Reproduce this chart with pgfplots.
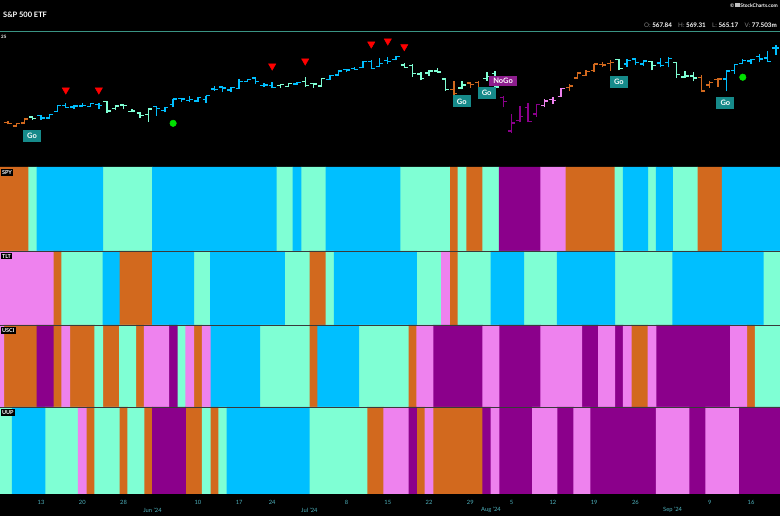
\documentclass[border=0pt]{standalone}
\usepackage{fontspec}
\setmainfont{Lato}
\usepackage{pgfplots}
\pgfplotsset{compat=1.18}
\usepackage{pgfplotstable}
\definecolor{c0}{HTML}{D2691E}
\definecolor{c1}{HTML}{7FFFD4}
\definecolor{c2}{HTML}{00BFFF}
\definecolor{c3}{HTML}{8B008B}
\definecolor{c4}{HTML}{EE82EE}
\definecolor{tealline}{HTML}{3A9484}
\definecolor{ticktxt}{HTML}{4FB3BF}
\definecolor{gobox}{HTML}{168A8A}
\definecolor{nogobox}{HTML}{8E1E8E}
\definecolor{gdot}{HTML}{00E000}
\definecolor{sep}{HTML}{3A3A3A}

\pgfdeclareplotmark{ohlcopen}{\pgfpathmoveto{\pgfqpoint{-3.6pt}{0pt}}\pgfpathlineto{\pgfqpoint{0.6pt}{0pt}}\pgfusepathqstroke}
\pgfdeclareplotmark{ohlcclose}{\pgfpathmoveto{\pgfqpoint{-0.6pt}{0pt}}\pgfpathlineto{\pgfqpoint{3.6pt}{0pt}}\pgfusepathqstroke}

\pgfplotstableread{
d O H L C spy tlt usci uup
0 513.75 516.61 513.30 516.57 0 4 4 1
1 517.56 518.57 516.45 517.14 0 4 0 1
2 515.26 517.74 515.14 517.19 0 4 0 2
3 517.38 520.21 516.71 520.17 0 4 0 2
4 521.81 522.64 519.59 520.84 1 4 0 2
5 522.56 522.67 519.74 520.91 2 4 3 2
6 521.11 523.83 520.56 523.30 2 4 3 1
7 525.83 530.08 525.18 529.78 2 0 0 1
8 529.88 531.52 528.54 528.69 2 1 4 1
9 528.81 529.52 527.32 529.45 2 1 0 1
10 529.57 531.56 529.17 530.06 2 1 0 4
11 529.28 531.52 529.07 531.36 2 1 0 0
12 530.65 531.38 527.60 529.83 2 1 1 1
13 532.96 533.07 524.72 525.96 1 2 0 1
14 527.85 530.27 526.88 529.44 1 2 0 1
15 530.27 530.51 527.11 529.81 1 0 1 0
16 525.68 527.31 525.37 526.10 1 0 1 1
17 524.52 525.20 521.33 522.61 1 0 0 1
18 523.59 527.50 518.36 527.37 1 0 4 0
19 529.02 529.31 522.60 527.80 2 2 4 3
20 526.46 529.15 524.96 528.39 2 2 4 3
21 530.77 534.69 528.73 534.67 2 2 3 3
22 534.98 535.42 532.68 534.66 2 2 1 3
23 533.66 536.89 532.54 534.01 2 2 4 0
24 533.18 535.99 532.57 535.66 2 1 0 0
25 534.07 537.01 532.05 536.95 2 1 4 1
26 541.63 544.12 540.30 541.36 2 2 2 0
27 543.15 543.33 539.59 542.45 2 2 2 1
28 540.88 542.81 539.85 542.78 2 2 2 2
29 542.08 548.53 541.61 547.10 2 2 2 2
30 547.16 548.62 546.73 548.49 2 2 2 2
31 549.44 550.12 545.18 547.00 2 2 2 2
32 544.40 545.65 543.02 544.51 2 2 1 2
33 544.33 546.95 542.62 542.74 2 2 1 2
34 543.99 545.20 542.44 544.83 1 2 1 2
35 543.69 546.24 543.03 545.51 1 1 1 2
36 545.37 546.96 544.61 546.37 2 1 1 2
37 547.16 550.28 542.95 544.22 1 1 1 2
38 545.63 545.88 542.52 545.34 1 0 0 1
39 543.70 549.01 543.65 549.01 1 0 2 1
40 548.69 551.83 548.65 551.46 2 1 2 1
41 551.77 555.05 551.12 554.64 2 2 2 1
42 555.44 556.25 554.19 555.28 2 2 2 1
43 556.26 557.18 555.52 555.82 2 2 2 1
44 557.07 561.67 556.77 561.32 2 2 1 1
45 561.44 562.33 555.83 556.48 2 2 1 0
46 557.63 563.67 557.15 559.99 2 2 1 0
47 562.03 564.84 559.63 561.53 2 2 1 4
48 562.87 565.16 562.10 564.86 2 2 1 4
49 558.80 560.51 556.61 556.94 1 2 1 4
50 558.51 559.52 550.43 552.66 1 2 0 3
51 552.42 554.08 547.91 548.99 1 1 4 0
52 553.00 555.27 551.02 554.65 1 1 4 4
53 554.54 556.74 553.28 553.78 1 1 3 0
54 548.86 549.17 540.29 541.23 1 4 3 0
55 541.35 547.46 537.45 538.41 0 0 3 0
56 542.28 547.19 541.49 544.44 1 1 3 0
57 546.02 547.05 542.72 544.76 0 1 3 0
58 546.26 547.34 538.52 542.00 0 1 3 0
59 548.98 553.50 547.58 550.81 1 1 4 3
60 552.57 554.87 539.43 543.01 1 2 4 4
61 535.75 536.99 528.60 532.90 3 2 3 3
62 511.64 523.58 510.27 517.38 3 2 3 3
63 519.22 529.75 517.87 522.15 3 2 3 3
64 528.47 531.59 518.05 518.66 3 1 3 3
65 523.91 531.29 521.84 530.65 3 1 3 4
66 529.81 534.51 528.56 532.99 4 1 4 4
67 534.21 535.73 530.95 533.27 4 1 4 4
68 536.53 542.28 536.28 542.04 4 2 4 3
69 542.85 544.96 540.12 543.75 0 2 4 3
70 549.50 553.36 548.88 553.07 0 2 4 4
71 551.42 555.02 551.26 554.31 0 2 3 4
72 554.73 559.61 553.86 559.61 0 2 3 3
73 559.15 560.84 557.33 558.70 0 2 4 3
74 559.77 562.11 554.73 560.62 0 2 4 3
75 562.56 563.18 554.98 556.22 1 1 3 3
76 559.53 563.09 557.29 562.13 2 1 4 3
77 563.18 563.91 559.05 560.79 2 1 0 3
78 559.49 562.06 558.32 561.56 2 1 0 3
79 561.21 561.65 555.04 558.30 1 1 4 3
80 560.31 563.68 557.18 558.35 2 1 3 4
81 560.77 564.20 557.14 563.68 2 1 3 4
82 560.47 560.81 549.51 552.08 1 2 3 4
83 550.20 554.43 549.46 550.95 1 2 3 4
84 550.89 553.80 547.10 549.61 1 2 3 3
85 549.94 551.60 539.44 540.36 0 2 3 3
86 544.65 547.71 542.68 546.41 0 2 3 4
87 548.36 549.15 543.38 548.79 0 2 3 4
88 548.70 555.36 539.96 554.42 2 2 3 4
89 555.01 559.40 552.74 559.09 2 2 4 4
90 559.71 563.03 559.45 562.01 2 2 4 3
91 561.74 563.11 559.90 562.84 2 2 0 3
92 565.10 566.58 560.79 563.07 2 2 1 3
93 563.74 568.69 560.83 561.40 2 1 1 3
94 571.01 572.88 566.08 570.98 2 1 1 3
}\data

\newcommand\stripe[2]{\addplot[ybar, bar width=1.06, bar shift=0pt, fill=c#2, draw=none,
  restrict expr to domain={\thisrow{#1}}{#2:#2}] table[x=d, y expr=1] {\data};}
\newcommand\panel[1]{\stripe{#1}{0}\stripe{#1}{1}\stripe{#1}{2}\stripe{#1}{3}\stripe{#1}{4}}
\newcommand\ohlc[1]{%
\addplot[color=c#1, line width=1.4bp, mark=none, -,
  quiver={u=0, v=\thisrow{H}-\thisrow{L}},
  restrict expr to domain={\thisrow{spy}}{#1:#1}] table[x=d, y=L] {\data};
\addplot[only marks, color=c#1, mark=ohlcopen, mark options={line width=1.4bp},
  restrict expr to domain={\thisrow{spy}}{#1:#1}] table[x=d, y=O] {\data};
\addplot[only marks, color=c#1, mark=ohlcclose, mark options={line width=1.4bp},
  restrict expr to domain={\thisrow{spy}}{#1:#1}] table[x=d, y=C] {\data};}

\pgfplotsset{
  base/.style={scale only axis, width=780bp, anchor=south west, xmin=0.03, xmax=94.51,
    axis line style={draw=none}, major tick length=0pt, ytick=\empty,
    /pgf/number format/assume math mode=true},
  strip/.style={base, ymin=0, ymax=1, xtick=\empty},
}
\tikzset{plabel/.style={anchor=north west, fill=black, text=white, font=\bfseries\fontsize{5.5}{6}\selectfont, inner sep=1.4bp}}

\begin{document}
\begin{tikzpicture}
\fill[black] (0bp,0bp) rectangle (780bp,516bp);

% price panel
\begin{axis}[base, at={(0bp,349bp)}, height=135bp, ymin=486, ymax=582.4, xtick=\empty]
\ohlc{0}\ohlc{1}\ohlc{2}\ohlc{3}\ohlc{4}
\addplot[only marks, mark=triangle*, mark size=4.2bp, mark options={rotate=180, fill=red, draw=red}]
  coordinates {(8,541.0) (12,541.0) (33,558.1) (37,561.7) (45,573.8) (47,576.0) (49,571.9)};
\addplot[only marks, mark=*, mark size=3.3bp, color=gdot]
  coordinates {(21,517.2) (90,550.1)};
\addplot[only marks, mark=none, nodes near coords, point meta=explicit symbolic,
  nodes near coords style={anchor=center, fill=gobox, text=white, font=\bfseries\fontsize{7.5}{8}\selectfont,
    minimum width=18bp, minimum height=12bp, inner sep=0pt}]
  coordinates {(3.9,508.4)[Go] (55.96,532.9)[Go] (58.98,539.0)[Go] (75,546.9)[Go] (87.9,531.5)[Go]};
\addplot[only marks, mark=none, nodes near coords, point meta=explicit symbolic,
  nodes near coords style={anchor=center, fill=nogobox, text=white, font=\bfseries\fontsize{7.5}{8}\selectfont,
    minimum width=28bp, minimum height=10bp, inner sep=0pt}]
  coordinates {(60.96,547.4)[NoGo]};
\end{axis}

% heat map panels
\begin{axis}[strip, at={(0bp,265bp)}, height=84bp]
\panel{spy}
\end{axis}
\begin{axis}[strip, at={(0bp,191bp)}, height=74bp]
\panel{tlt}
\end{axis}
\begin{axis}[strip, at={(0bp,109bp)}, height=82bp]
\panel{usci}
\end{axis}
\begin{axis}[base, at={(0bp,22bp)}, height=87bp, ymin=0, ymax=1,
  xtick={0,5,10,15,24,29,33,42,47,52,57,62,67,72,77,86,91},
  xticklabels={6,13,20,28,10,17,24,8,15,22,29,5,12,19,26,9,16},
  xticklabel style={anchor=center, yshift=-8bp, text=ticktxt, font=\fontsize{5.8}{6}\selectfont}]
\panel{uup}
\end{axis}
\begin{axis}[base, at={(0bp,22bp)}, height=87bp, ymin=0, ymax=1,
  xtick={18.5,37.5,59.5,81.5},
  xticklabels={Jun '24,Jul '24,Aug '24,Sep '24},
  xticklabel style={anchor=center, yshift=-16bp, text=ticktxt, font=\fontsize{5.8}{6}\selectfont}]
\end{axis}

% separators
\draw[sep, line width=0.7bp] (0bp,265bp) -- (780bp,265bp);
\draw[sep, line width=0.7bp] (0bp,191bp) -- (780bp,191bp);
\draw[sep, line width=0.7bp] (0bp,109bp) -- (780bp,109bp);
\draw[tealline, line width=1.1bp] (0bp,484.3bp) -- (780bp,484.3bp);

% texts
\node[anchor=west, text=white, font=\bfseries\fontsize{7.5}{9}\selectfont, inner sep=0pt] at (3bp,501bp) {S\&P 500 ETF};
\node[anchor=east, text=white, font=\fontsize{6.3}{7}\selectfont, inner sep=0pt] at (777bp,491bp)
  {\textcolor{gray}{O:} \textbf{567.84}\quad\textcolor{gray}{H:} \textbf{569.31}\quad\textcolor{gray}{L:} \textbf{565.17}\quad\textcolor{gray}{V:} \textbf{77.503m}};
\node[anchor=east, text=white, font=\bfseries\fontsize{5}{6}\selectfont, inner sep=0pt] at (778bp,511bp)
  {\copyright\,\textcolor{lightgray}{\rule{4.5bp}{4.5bp}}\,StockCharts.com};
\node[anchor=west, text=white, font=\bfseries\fontsize{4.5}{5}\selectfont, inner sep=0pt] at (1bp,479bp) {25};
\node[plabel] at (0.5bp,347.5bp) {SPY};
\node[plabel] at (0.5bp,263.5bp) {TLT};
\node[plabel] at (0.5bp,189.5bp) {USCI};
\node[plabel] at (0.5bp,107.5bp) {UUP};
\pgfresetboundingbox
\useasboundingbox (0bp,0bp) rectangle (780bp,516bp);
\end{tikzpicture}
\end{document}
